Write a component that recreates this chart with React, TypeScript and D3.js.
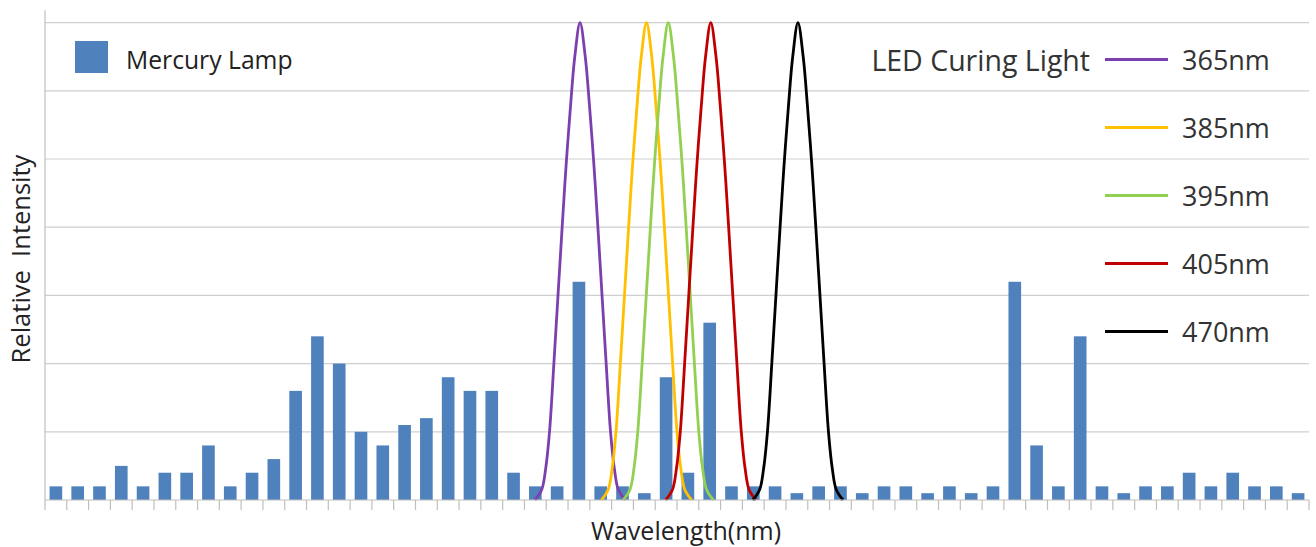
import React from "react";
import * as d3 from "d3";

// Mercury lamp relative intensity per wavelength bin (grid units)
const mercuryValues: number[] = [
  0.2, 0.2, 0.2, 0.5, 0.2, 0.4, 0.4, 0.8, 0.2, 0.4,
  0.6, 1.6, 2.4, 2.0, 1.0, 0.8, 1.1, 1.2, 1.8, 1.6,
  1.6, 0.4, 0.2, 0.2, 3.2, 0.2, 0.2, 0.1, 1.8, 0.4,
  2.6, 0.2, 0.2, 0.2, 0.1, 0.2, 0.2, 0.1, 0.2, 0.2,
  0.1, 0.2, 0.1, 0.2, 3.2, 0.8, 0.2, 2.4, 0.2, 0.1,
  0.2, 0.2, 0.4, 0.2, 0.4, 0.2, 0.2, 0.1,
];
const binIndex: number[] = mercuryValues.map((_, i) => i);

// LED curing light series
const ledLabels: string[] = ["365nm", "385nm", "395nm", "405nm", "470nm"];
const ledPeaks: number[] = [24.55, 27.6, 28.6, 30.55, 34.55]; // peak position in bins
const ledColors: string[] = ["#7E3FAE", "#FFC000", "#92D050", "#C00000", "#000000"];

// LED emission profile (offset in bins, intensity)
const profileOffsets: number[] = [
  -2.07, -1.76, -1.58, -1.4, -1.2, -1.01, -0.82, -0.64, -0.43, -0.24, 0,
  0.24, 0.43, 0.64, 0.82, 1.01, 1.2, 1.4, 1.58, 1.76, 2.07,
];
const profileValues: number[] = [
  0, 0.15, 0.45, 1.0, 2.0, 3.0, 4.0, 4.9, 5.8, 6.5, 7,
  6.5, 5.8, 4.9, 4.0, 3.0, 2.0, 1.0, 0.45, 0.15, 0,
];

const gridValues: number[] = [1, 2, 3, 4, 5, 6, 7];

const W = 1316;
const H = 547;
const FONT = "'Open Sans', 'Noto Sans', sans-serif";

export default function App() {
  const left = 45;
  const right = 1309;
  const n = mercuryValues.length;
  const x = d3.scaleLinear().domain([0, n]).range([left, right]);
  const band = d3
    .scaleBand<number>()
    .domain(binIndex)
    .range([left, right])
    .paddingInner(0.42)
    .paddingOuter(0.21);
  const y = d3.scaleLinear().domain([0, 7]).range([500, 22.6]);

  const line = d3
    .line<[number, number]>()
    .x((d) => x(d[0]))
    .y((d) => y(d[1]))
    .curve(d3.curveCatmullRom.alpha(0.5));

  const ticks = d3.range(0, n + 1);

  return (
    <svg
      width={W}
      height={H}
      style={{ position: "absolute", left: 0, top: 0, background: "#fff" }}
    >
      <rect x={0} y={0} width={W} height={H} fill="#fff" />
      {/* gridlines */}
      {gridValues.map((g) => (
        <line
          key={g}
          x1={left}
          x2={right}
          y1={y(g)}
          y2={y(g)}
          stroke="#CFCFCF"
          strokeWidth={1.2}
        />
      ))}
      {/* bars */}
      {mercuryValues.map((v, i) => (
        <rect
          key={i}
          x={band(i)}
          y={y(v)}
          width={band.bandwidth()}
          height={y(0) - y(v)}
          fill="#4F81BD"
        />
      ))}
      {/* LED curves */}
      {ledPeaks.map((p, k) => (
        <path
          key={k}
          d={
            line(
              profileOffsets.map((o, j) => [p + o, profileValues[j]] as [number, number])
            ) || ""
          }
          fill="none"
          stroke={ledColors[k]}
          strokeWidth={2.8}
          strokeLinejoin="round"
        />
      ))}
      {/* axes */}
      <line x1={left} x2={left} y1={y(7.18)} y2={y(0)} stroke="#BFBFBF" strokeWidth={1.2} />
      <line x1={left} x2={right} y1={y(0)} y2={y(0)} stroke="#BFBFBF" strokeWidth={1.2} />
      {ticks.map((t) => (
        <line
          key={t}
          x1={x(t)}
          x2={x(t)}
          y1={y(0)}
          y2={y(0) + 10}
          stroke="#BFBFBF"
          strokeWidth={1.2}
        />
      ))}
      {/* axis titles */}
      <text
        transform={`translate(30,259) rotate(-90)`}
        textAnchor="middle"
        fontFamily={FONT}
        fontSize={25.5}
        fill="#222"
      >
        Relative&#160;&#160;Intensity
      </text>
      <text
        x={686}
        y={540}
        textAnchor="middle"
        fontFamily={FONT}
        fontSize={25}
        fill="#222"
      >
        Wavelength(nm)
      </text>
      {/* Mercury legend */}
      <rect x={75} y={41} width={33} height={32} fill="#4F81BD" />
      <text
        x={126}
        y={60}
        dy="0.35em"
        fontFamily={FONT}
        fontSize={24.7}
        fill="#222"
      >
        Mercury Lamp
      </text>
      {/* LED legend */}
      <text
        x={1090}
        y={61}
        dy="0.35em"
        textAnchor="end"
        fontFamily={FONT}
        fontSize={28.5}
        fill="#333"
      >
        LED Curing Light
      </text>
      {ledLabels.map((lab, k) => {
        const ly = 59.5 + 68 * k;
        return (
          <g key={lab}>
            <line
              x1={1105}
              x2={1168}
              y1={ly}
              y2={ly}
              stroke={ledColors[k]}
              strokeWidth={3}
            />
            <text
              x={1182}
              y={ly + 1}
              dy="0.35em"
              fontFamily={FONT}
              fontSize={27}
              fill="#333"
            >
              {lab}
            </text>
          </g>
        );
      })}
    </svg>
  );
}
